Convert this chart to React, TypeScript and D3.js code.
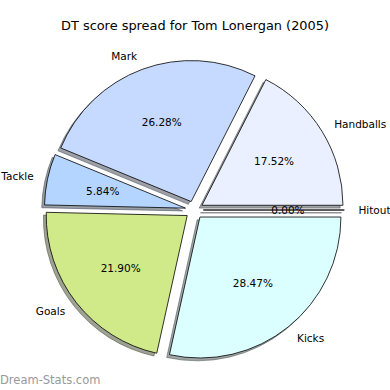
import React, { useEffect, useRef } from 'react'
import * as d3 from 'd3'

const labels = ['Hitout', 'Handballs', 'Mark', 'Tackle', 'Goals', 'Kicks']
const values = [0.0, 17.52, 26.28, 5.84, 21.90, 28.47]
const colors = ['#e0e0ff', '#eaf0ff', '#c6d9ff', '#b3d5ff', '#d0ea8a', '#dbffff']

export default function App() {
    const ref = useRef<SVGSVGElement | null>(null)

    const width = 390
    const height = 390
    const cx = 194.3
    const cy = 210
    const radius = 141
    const explode = 9

    function drawPie() {
        const svg = d3.select(ref.current)
        svg.selectAll('*').remove()

        svg.append('rect').attr('width', width).attr('height', height).attr('fill', 'white')

        svg.append('text')
            .attr('x', 195)
            .attr('y', 25)
            .attr('text-anchor', 'middle')
            .attr('dominant-baseline', 'central')
            .style('font-family', 'DejaVu Sans')
            .style('font-size', '12.9px')
            .text('DT score spread for Tom Lonergan (2005)')

        // matplotlib style: counterclockwise from 3 o'clock
        const pie = d3.pie<number>()
            .sort(null)
            .startAngle(Math.PI / 2)
            .endAngle(Math.PI / 2 - 2 * Math.PI)
        const arcs = pie(values)

        const arc = d3.arc<any>().innerRadius(0).outerRadius(radius)

        const g = svg.append('g').attr('transform', 'translate(' + cx + ',' + cy + ')')

        const mid = (d: any) => (d.startAngle + d.endAngle) / 2
        const off = (d: any, dist: number) => {
            const a = mid(d)
            return [Math.sin(a) * dist, -Math.cos(a) * dist]
        }

        // shadows first
        arcs.forEach((d, i) => {
            const [ox, oy] = off(d, explode)
            const c = d3.rgb(colors[i])
            g.append('path')
                .attr('d', arc(d) as string)
                .attr('transform', 'translate(' + (ox - 2.8) + ',' + (oy + 2.8) + ')')
                .attr('fill', d3.rgb(c.r * 0.3, c.g * 0.3, c.b * 0.3).toString())
                .attr('fill-opacity', 0.5)
                .attr('stroke', d3.rgb(c.r * 0.3, c.g * 0.3, c.b * 0.3).toString())
                .attr('stroke-opacity', 0.5)
                .attr('stroke-width', 1)
        })

        arcs.forEach((d, i) => {
            const [ox, oy] = off(d, explode)
            g.append('path')
                .attr('d', arc(d) as string)
                .attr('transform', 'translate(' + ox + ',' + oy + ')')
                .attr('fill', colors[i])
                .attr('stroke', 'black')
                .attr('stroke-width', 0.8)
                .attr('stroke-linejoin', 'round')
        })

        arcs.forEach((d, i) => {
            const [px, py] = off(d, explode + radius * 0.6)
            g.append('text')
                .attr('x', px)
                .attr('y', py)
                .attr('text-anchor', 'middle')
                .attr('dominant-baseline', 'central')
                .style('font-family', 'DejaVu Sans')
                .style('font-size', '10.5px')
                .text(d3.format('.2f')(values[i]) + '%')

            const [lx, ly] = off(d, explode + radius * 1.1)
            g.append('text')
                .attr('x', lx)
                .attr('y', ly)
                .attr('text-anchor', lx > 0 ? 'start' : 'end')
                .attr('dominant-baseline', 'central')
                .style('font-family', 'DejaVu Sans')
                .style('font-size', '10.5px')
                .text(labels[i])
        })

        svg.append('text')
            .attr('x', 0)
            .attr('y', 380)
            .attr('dominant-baseline', 'central')
            .attr('fill', '#999999')
            .style('font-family', 'DejaVu Sans')
            .style('font-size', '11.5px')
            .text('Dream-Stats.com')
    }

    useEffect(() => {
        drawPie()
    }, [])

    return (
        <div>
            <svg ref={ref} width={width} height={height}
                style={{ position: 'absolute', left: 0, top: 0 }} />
        </div>
    )
}
